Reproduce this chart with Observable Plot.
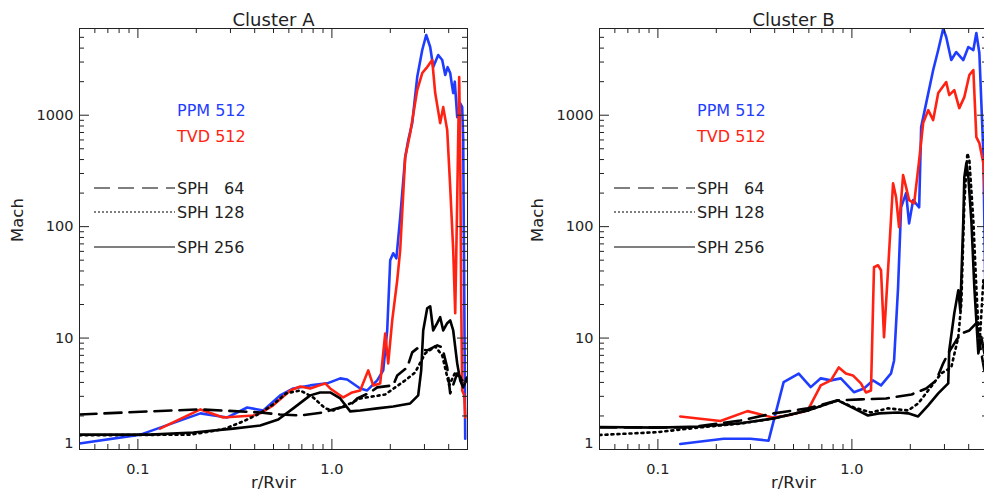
<!DOCTYPE html>
<html><head><meta charset="utf-8">
<script src="https://cdn.jsdelivr.net/npm/d3@7"></script>
<script src="https://cdn.jsdelivr.net/npm/@observablehq/plot@0.6"></script>
<style>
html,body{margin:0;padding:0;background:#fff;overflow:hidden;width:984px;height:502px;}
#wrap{position:relative;width:984px;height:502px;overflow:hidden;background:#fff;}
#wrap svg{position:absolute;top:0;max-width:none;}
svg text{white-space:pre;}
</style></head><body><div id="wrap"></div>
<script>
// ---- ticks / labels ----
const xTickValues = [0.1, 1];
const xTickLabels = ["0.1", "1.0"];
const yTickValues = [1, 10, 100, 1000];
const xMinorTicks = [0.06,0.07,0.08,0.09,0.2,0.3,0.4,0.5,0.6,0.7,0.8,0.9,2,3,4];
const yMinorTicks = [2,3,4,5,6,7,8,9,20,30,40,50,60,70,80,90,200,300,400,500,600,700,800,900,2000,3000,4000,5000];
const panelTitles = ["Cluster A", "Cluster B"];
const seriesNames = ["PPM 512", "TVD 512", "SPH   64", "SPH 128", "SPH 256"];

// ---- Cluster A: [r/Rvir, Mach] ----
const clusterA_PPM512 = [[0.05,1.13],[0.103,1.36],[0.21,2.11],[0.289,1.94],[0.366,2.38],[0.443,2.24],[0.541,3.06],[0.632,3.53],[0.773,3.76],[0.946,3.92],[1.104,4.35],[1.199,4.25],[1.399,3.53],[1.52,3.39],[1.712,4.17],[1.839,5.13],[1.928,11.7],[1.998,49.9],[2.07,57.7],[2.15,52],[2.249,121],[2.387,420],[2.474,597],[2.594,849],[2.753,2199],[2.922,3846],[3.063,5245],[3.211,4093],[3.328,2705],[3.532,3467],[3.704,3127],[3.838,2293],[3.95,2700],[4.072,2390],[4.15,1900],[4.22,1580],[4.3,2000],[4.425,961],[4.585,1280],[4.695,1182],[4.752,597],[4.866,1.25]];
const clusterA_TVD512 = [[0.13,1.54],[0.21,2.29],[0.275,1.94],[0.393,2.02],[0.427,2.11],[0.498,2.49],[0.61,3.39],[0.687,3.68],[0.773,3.53],[0.924,3.92],[0.98,3.53],[1.144,2.93],[1.272,3.25],[1.399,3.39],[1.539,5.13],[1.633,3.76],[1.774,3.92],[1.883,11.0],[1.951,5.93],[2.046,14.4],[2.171,33.0],[2.249,61.4],[2.387,420],[2.533,691],[2.753,1681],[2.922,2390],[3.099,2705],[3.289,3127],[3.408,1580],[3.616,849],[3.748,1182],[3.93,735],[4.072,226],[4.22,61.4],[4.322,16.7],[4.425,173],[4.531,2199],[4.585,490],[4.64,21.7],[4.695,3.39],[4.81,3.06],[4.866,1.94]];
const clusterA_SPH64 = [[0.05,2.06],[0.116,2.2],[0.21,2.29],[0.427,2.15],[0.541,2.06],[0.687,2.02],[0.902,2.15],[1.065,2.34],[1.243,2.49],[1.35,2.87],[1.575,3.25],[1.712,3.61],[2.07,3.76],[2.171,4.62],[2.445,5.45],[2.594,7.44],[2.753,8.08],[3.099,7.75],[3.49,8.6],[3.704,8.25],[3.93,5.45],[4.072,3.19],[4.425,4.82],[4.752,4.17],[4.983,4.35]];
const clusterA_SPH128 = [[0.05,1.34],[0.186,1.36],[0.236,1.45],[0.282,1.54],[0.349,1.79],[0.427,2.11],[0.498,2.54],[0.581,3.19],[0.687,3.39],[0.801,2.93],[0.924,2.34],[1.016,2.24],[1.243,2.59],[1.399,2.87],[1.883,3.12],[2.12,3.61],[2.387,4.17],[2.688,4.92],[3.027,7.29],[3.408,8.42],[3.704,6.99],[4.024,3.76],[4.322,4.92],[4.695,4.17],[4.983,4.35]];
const clusterA_SPH256 = [[0.05,1.36],[0.116,1.36],[0.193,1.42],[0.31,1.54],[0.427,1.64],[0.529,1.86],[0.632,2.34],[0.773,3.06],[0.87,3.25],[0.98,3.25],[1.104,2.87],[1.243,2.2],[1.399,2.24],[1.712,2.34],[2.07,2.43],[2.533,2.59],[2.785,3.06],[2.886,5.13],[2.956,11.7],[3.099,18.5],[3.211,19.3],[3.328,11.7],[3.49,13.6],[3.616,15.4],[3.748,11.7],[3.93,13.6],[4.072,14.4],[4.22,11.7],[4.425,5.93],[4.585,4.17],[4.752,3.61],[4.983,4.44]];

// ---- Cluster B ----
const clusterB_PPM512 = [[0.1304,1.12],[0.218,1.25],[0.30,1.25],[0.372,1.2],[0.4447,4.02],[0.532,4.79],[0.6136,3.63],[0.691,4.35],[0.779,4.17],[0.877,4.35],[1.024,3.27],[1.154,3.53],[1.284,4.17],[1.413,3.76],[1.591,4.82],[1.65,6.3],[1.73,28.5],[1.793,149],[1.902,200],[1.972,107],[2.068,173],[2.222,149],[2.275,782],[2.415,1284],[2.624,2543],[2.786,3846],[2.956,6000],[3.063,5031],[3.252,3127],[3.451,3690],[3.752,3127],[3.983,4093],[4.227,3846],[4.38,5467],[4.539,3614],[4.76,456],[4.87,28.5],[4.99,9.5]];
const clusterB_TVD512 = [[0.1304,1.98],[0.21,1.8],[0.2897,2.21],[0.39,1.94],[0.4665,2.02],[0.592,2.24],[0.691,3.76],[0.779,4.17],[0.856,5.45],[0.931,4.82],[1.012,4.62],[1.113,3.92],[1.181,3.25],[1.254,3.39],[1.30,43.2],[1.363,45],[1.413,40.6],[1.464,10.2],[1.554,57.7],[1.63,245],[1.689,184],[1.75,98.8],[1.836,290],[1.902,226],[1.972,173],[2.093,162],[2.222,395],[2.33,849],[2.474,1111],[2.624,904],[2.786,1580],[3.063,1983],[3.175,1516],[3.371,1681],[3.577,1158],[3.797,1454],[4.031,2293],[4.227,2543],[4.38,636],[4.539,562],[4.76,371],[4.87,173]];
const clusterB_SPH64 = [[0.05,1.58],[0.147,1.58],[0.2666,1.82],[0.395,2.11],[0.592,2.34],[0.846,2.76],[1.113,2.82],[1.5,2.87],[2.03,3.12],[2.415,3.53],[2.72,4.17],[2.956,5.93],[3.137,7.29],[3.451,9.54],[3.664,11.0],[4.031,11.7],[4.38,13.6],[4.648,7.29],[4.817,5.13],[4.99,6.3]];
const clusterB_SPH128 = [[0.05,1.35],[0.0992,1.43],[0.1655,1.58],[0.2666,1.71],[0.395,1.9],[0.592,2.24],[0.846,2.76],[1.024,2.38],[1.254,2.15],[1.536,2.34],[1.949,2.24],[2.195,2.59],[2.474,3.39],[2.886,4.82],[3.252,5.45],[3.535,10.2],[3.664,20.5],[3.797,162],[3.936,456],[4.031,395],[4.227,114],[4.38,28.5],[4.539,8.25],[4.76,33],[4.99,21.7]];
const clusterB_SPH256 = [[0.05,1.59],[0.0992,1.57],[0.1655,1.61],[0.2666,1.72],[0.395,1.9],[0.592,2.24],[0.846,2.76],[1.024,2.34],[1.21,2.02],[1.379,2.11],[1.73,2.15],[1.949,2.11],[2.195,1.98],[2.474,2.49],[2.786,3.19],[3.137,3.92],[3.175,7.75],[3.371,16.7],[3.535,26.8],[3.62,17.7],[3.752,114],[3.797,278],[3.889,371],[3.983,278],[4.128,114],[4.277,28.5],[4.38,14.4],[4.485,7.29],[4.648,10.2],[4.817,7.29],[4.99,7.75]];

// ---- styles ----
const BLUE = "#1f3dff", RED = "#ff2212", AX = "#222";
const styles = [
  {color: BLUE, width: 2.6, dash: null},
  {color: RED, width: 2.6, dash: null},
  {color: "#000", width: 2.6, dash: "17,8"},
  {color: "#000", width: 2.6, dash: "2,4"},
  {color: "#000", width: 2.6, dash: null}
];

function makePanel(title, seriesData, marginLeft, width, left) {
  const H = 502, mt = 28, mb = 53, fw = 388, mr = width - marginLeft - fw, fh = H - mt - mb;
  const marks = [];
  seriesData.forEach((data, i) => {
    marks.push(Plot.line(data, {x: d => d[0], y: d => d[1], stroke: styles[i].color,
      strokeWidth: styles[i].width, strokeDasharray: styles[i].dash, clip: true}));
  });
  marks.push(Plot.frame({stroke: AX, strokeWidth: 1}));
  marks.push(Plot.tickX(xTickValues, {x: d => d, insetTop: fh - 10, stroke: AX}));
  marks.push(Plot.tickX(xTickValues, {x: d => d, insetBottom: fh - 10, stroke: AX}));
  marks.push(Plot.tickX(xMinorTicks, {x: d => d, insetTop: fh - 5, stroke: AX}));
  marks.push(Plot.tickX(xMinorTicks, {x: d => d, insetBottom: fh - 5, stroke: AX}));
  marks.push(Plot.tickY(yTickValues, {y: d => d, insetRight: fw - 10, stroke: AX}));
  marks.push(Plot.tickY(yTickValues, {y: d => d, insetLeft: fw - 10, stroke: AX}));
  marks.push(Plot.tickY(yMinorTicks, {y: d => d, insetRight: fw - 5, stroke: AX}));
  marks.push(Plot.tickY(yMinorTicks, {y: d => d, insetLeft: fw - 5, stroke: AX}));
  marks.push(Plot.axisX(xTickValues, {tickSize: 0, tickPadding: 14, label: null,
    tickFormat: d => xTickLabels[xTickValues.indexOf(d)]}));
  marks.push(Plot.axisY(yTickValues.slice(1), {tickSize: 0, tickPadding: 6, label: null, tickFormat: d => String(d)}));
  marks.push(Plot.axisY(yTickValues.slice(0, 1), {tickSize: 0, tickPadding: 6, dy: -6, label: null, tickFormat: d => String(d)}));
  marks.push(Plot.text([title], {frameAnchor: "top", dy: -15, fontSize: 18}));
  marks.push(Plot.text(["Mach"], {frameAnchor: "left", dx: -62, dy: 3, rotate: -90, fontSize: 16.5}));
  marks.push(Plot.text(["r/Rvir"], {frameAnchor: "bottom", dy: 38, fontSize: 16.5}));

  const chart = Plot.plot({
    width, height: H, marginLeft, marginRight: mr, marginTop: mt, marginBottom: mb,
    x: {type: "log", domain: [0.05, 5]},
    y: {type: "log", domain: [1, 6000]},
    style: {fontFamily: "DejaVu Sans, sans-serif", fontSize: "14.5px", color: AX, background: "white", maxWidth: "none"},
    marks
  });
  chart.style.left = left + "px";

  // legend (layout only)
  const svg = d3.select(chart);
  const g = svg.append("g").attr("font-family", "DejaVu Sans, sans-serif").attr("font-size", 16)
    .attr("text-anchor", "start");
  const tx = marginLeft + 98, lx0 = marginLeft + 15, lx1 = marginLeft + 96;
  const rows = [
    {y: 110, line: false}, {y: 136, line: false},
    {y: 188, line: true, dash: "16,8"}, {y: 212, line: true, dash: "2,2"}, {y: 247, line: true, dash: null}
  ];
  rows.forEach((r, i) => {
    if (r.line) {
      g.append("line").attr("x1", lx0).attr("x2", lx1).attr("y1", r.y).attr("y2", r.y)
        .attr("stroke", "#000").attr("stroke-width", 1.2).attr("stroke-dasharray", r.dash);
    }
    g.append("text").attr("x", tx).attr("y", r.y).attr("dy", "0.36em").attr("text-anchor", "start")
      .attr("fill", i === 0 ? BLUE : i === 1 ? RED : AX).style("white-space", "pre").text(seriesNames[i]);
  });
  return chart;
}

const wrap = document.getElementById("wrap");
wrap.appendChild(makePanel(panelTitles[0], [clusterA_PPM512, clusterA_TVD512, clusterA_SPH64, clusterA_SPH128, clusterA_SPH256], 79, 492, 0));
wrap.appendChild(makePanel(panelTitles[1], [clusterB_PPM512, clusterB_TVD512, clusterB_SPH64, clusterB_SPH128, clusterB_SPH256], 107, 520, 492));
</script>
</body></html>
